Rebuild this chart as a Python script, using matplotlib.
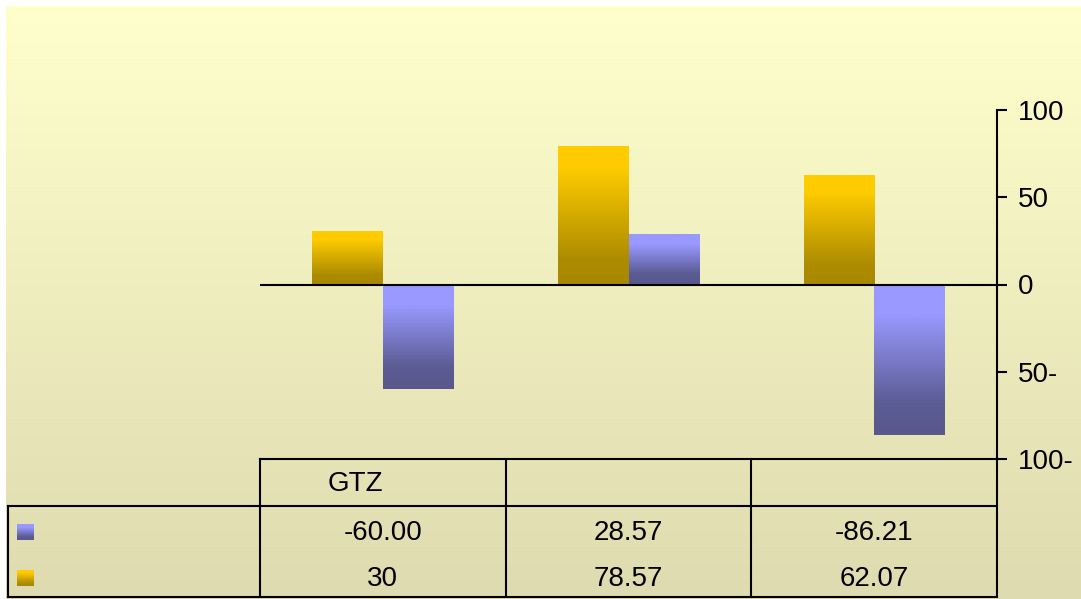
import matplotlib.pyplot as plt
import numpy as np
from matplotlib.colors import LinearSegmentedColormap

categories = ["GTZ", "", ""]
blue_text = ["-60.00", "28.57", "-86.21"]
gold_text = ["30", "78.57", "62.07"]
blue_vals = [float(s) for s in blue_text]
gold_vals = [float(s) for s in gold_text]
ticks = [100, 50, 0, -50, -100]
tick_text = ["100", "50", "0", "50-", "100-"]

W, H = 1081, 599
plt.rcParams['font.family'] = ['Liberation Sans', 'DejaVu Sans']

gold_cmap = LinearSegmentedColormap.from_list(
    "gold", [(0, "#a88800"), (0.18, "#ad8c00"), (0.85, "#ffcc00"), (1, "#ffcc00")])
blue_cmap = LinearSegmentedColormap.from_list(
    "blue", [(0, "#58588c"), (0.22, "#5c5c96"), (0.8, "#9999ff"), (1, "#9999ff")])
bg_cmap = LinearSegmentedColormap.from_list("bg", ["#dedbb0", "#ffffcc"])
ramp = np.linspace(0, 1, 256).reshape(-1, 1)


def frac(x0, y0, x1, y1):
    """pixel box (y from top) -> figure rect"""
    return [x0 / W, 1 - y1 / H, (x1 - x0) / W, (y1 - y0) / H]


fig = plt.figure(figsize=(W / 100, H / 100), dpi=100)

# background gradient
bg = fig.add_axes(frac(6, 6, W, H), zorder=0)
bg.imshow(ramp, cmap=bg_cmap, aspect='auto', origin='lower', extent=[0, 1, 0, 1])
bg.axis('off')

ax = fig.add_axes(frac(260, 110, 997, 459), zorder=2)
ax.patch.set_alpha(0)
x = np.arange(len(categories))
bw = 0.287


def gradient_bars(xs, vals, cmap):
    bars = ax.bar(xs, vals, bw, align='edge', facecolor='none', edgecolor='none')
    for b in bars:
        x0, y0 = b.get_x(), b.get_y()
        w, h = b.get_width(), b.get_height()
        lo, hi = min(y0, y0 + h), max(y0, y0 + h)
        ax.imshow(ramp, cmap=cmap, aspect='auto', origin='lower',
                  extent=[x0, x0 + w, lo, hi], zorder=2)


gradient_bars(x - bw, gold_vals, gold_cmap)
gradient_bars(x, blue_vals, blue_cmap)
ax.set_xlim(-0.5, 2.5)
ax.set_ylim(-100, 100)
ax.axhline(0, color='black', lw=1.5, zorder=3)

for s in ['left', 'top', 'bottom']:
    ax.spines[s].set_visible(False)
ax.spines['right'].set_linewidth(1.5)
ax.yaxis.tick_right()
ax.set_yticks(ticks, tick_text)
ax.set_xticks([])
ax.tick_params(axis='y', direction='out', length=7, width=1.5, pad=8, labelsize=20)

# data table below the plot
ov = fig.add_axes([0, 0, 1, 1], zorder=3)
ov.patch.set_alpha(0)
lk = dict(color='black', lw=1.5, solid_capstyle='projecting')
edges = np.linspace(260, 997, len(categories) + 1)
ov.plot([260, 997], [459, 459], **lk)
ov.plot([8, 997], [506, 506], **lk)
ov.plot([8, 997], [597, 597], **lk)
ov.plot([8, 8], [506, 597], **lk)
for e in edges:
    ov.plot([e, e], [459, 597], **lk)

centers = (edges[:-1] + edges[1:]) / 2
for c, cat, bt, gt in zip(centers, categories, blue_text, gold_text):
    ov.text(c - 27, 484, cat, ha='center', va='center', fontsize=20)
    ov.text(c, 533, bt, ha='center', va='center', fontsize=20)
    ov.text(c, 579, gt, ha='center', va='center', fontsize=20)

ov.imshow(ramp, cmap=blue_cmap, aspect='auto', origin='lower', extent=[17, 34, 540, 524])
ov.imshow(ramp, cmap=gold_cmap, aspect='auto', origin='lower', extent=[17, 34, 586, 570])
ov.set_xlim(0, W)
ov.set_ylim(H, 0)
ov.axis('off')

fig.savefig("out.png", dpi=100)
